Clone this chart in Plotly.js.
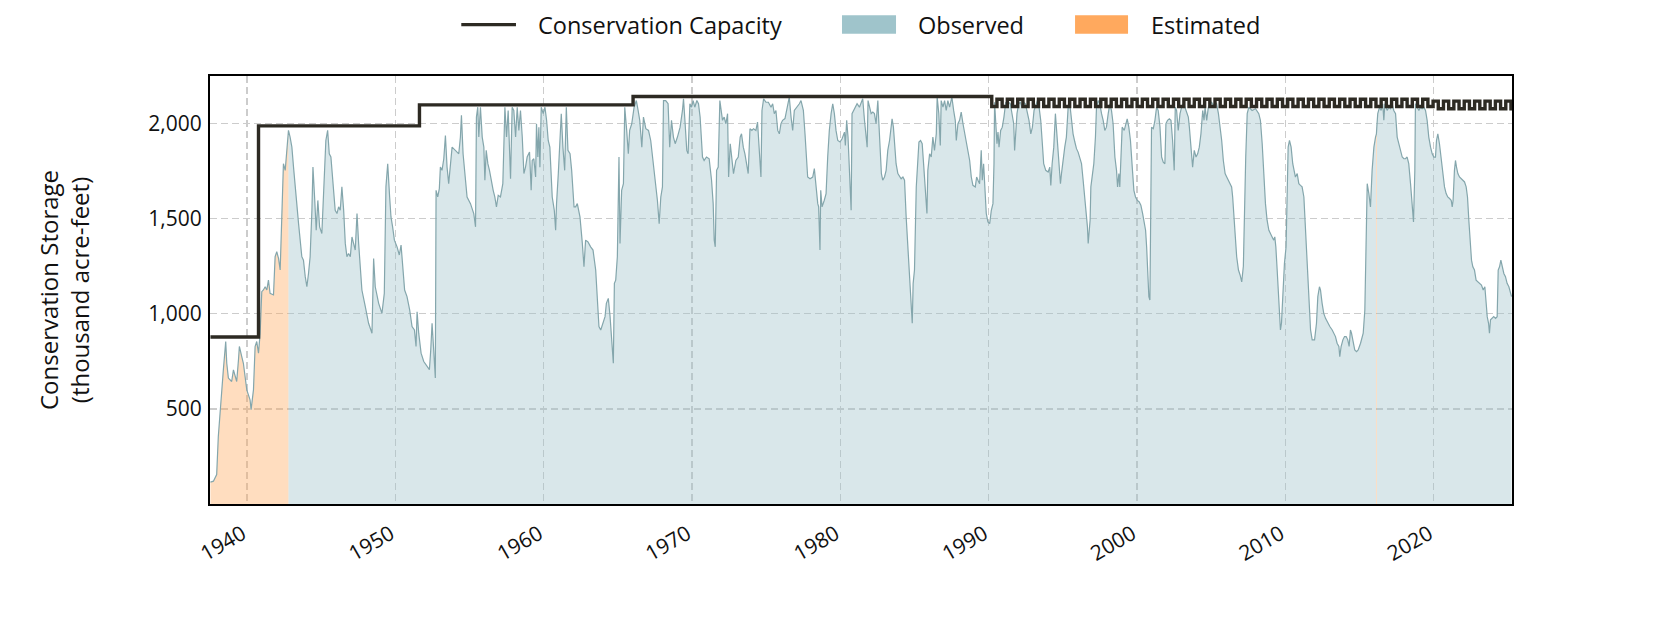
<!DOCTYPE html>
<html>
<head>
<meta charset="utf-8">
<script src="https://cdn.plot.ly/plotly-3.0.1.min.js"></script>
<style>
  html, body { margin: 0; padding: 0; background: #ffffff; }
  #chart { width: 1680px; height: 630px; }
</style>
</head>
<body>
<div id="chart"></div>
<script>
// ---- Data (decimal year, thousand acre-feet) ----
const storage1930s = [[1937.53,115],[1937.73,120],[1937.95,155],[1938.06,355],[1938.18,478],[1938.29,618],[1938.40,705],[1938.56,854],[1938.63,740],[1938.74,662],[1938.96,644],[1939.08,705],[1939.30,644],[1939.42,758],[1939.48,828],[1939.64,775],[1939.75,740],[1939.98,600]];
const storage1940s = [[1940.20,548],[1940.27,496],[1940.43,600],[1940.54,828],[1940.65,854],[1940.77,793],[1940.88,898],[1940.99,1116],[1941.10,1125],[1941.22,1142],[1941.33,1125],[1941.44,1177],[1941.55,1107],[1941.78,1099],[1941.89,1300],[1942.00,1326],[1942.12,1291],[1942.23,1230],[1942.34,1527],[1942.45,1789],[1942.57,1754],[1942.68,1841],[1942.79,1964],[1942.90,1929],[1943.02,1876],[1943.13,1771],[1943.24,1667],[1943.35,1579],[1943.47,1474],[1943.69,1300],[1943.80,1282],[1943.92,1195],[1944.03,1142],[1944.14,1212],[1944.25,1300],[1944.37,1544],[1944.44,1771],[1944.55,1614],[1944.66,1439],[1944.77,1596],[1944.89,1457],[1945.04,1422],[1945.16,1649],[1945.31,1911],[1945.43,1964],[1945.54,1841],[1945.65,1824],[1945.76,1702],[1945.94,1544],[1946.06,1527],[1946.17,1562],[1946.28,1544],[1946.39,1667],[1946.51,1544],[1946.62,1370],[1946.73,1300],[1946.84,1317],[1946.96,1300],[1947.07,1404],[1947.29,1335],[1947.41,1527],[1947.52,1370],[1947.63,1265],[1947.74,1125],[1947.97,1037],[1948.19,950],[1948.42,898],[1948.53,1291],[1948.64,1142],[1948.87,1055],[1949.09,1002],[1949.25,1107],[1949.36,1667],[1949.48,1789],[1949.61,1614],[1949.70,1509],[1949.81,1457],[1949.93,1387]];
const storage1950s = [[1950.11,1352],[1950.26,1309],[1950.38,1361],[1950.49,1247],[1950.62,1125],[1950.78,1090],[1950.96,1020],[1951.12,933],[1951.28,915],[1951.39,828],[1951.46,1011],[1951.57,898],[1951.73,793],[1951.91,749],[1952.13,723],[1952.29,706],[1952.38,810],[1952.47,950],[1952.58,810],[1952.69,662],[1952.74,1649],[1952.85,1614],[1952.96,1658],[1953.03,1771],[1953.14,1754],[1953.26,1815],[1953.37,1937],[1953.48,1771],[1953.59,1684],[1953.71,1771],[1953.82,1876],[1954.04,1859],[1954.27,1841],[1954.38,1929],[1954.45,2043],[1954.56,1841],[1954.72,1684],[1954.83,1614],[1955.06,1579],[1955.28,1527],[1955.40,1457],[1955.46,2034],[1955.55,2086],[1955.62,1929],[1955.73,2086],[1955.85,1929],[1955.96,1876],[1956.03,1702],[1956.12,1859],[1956.23,1789],[1956.34,1754],[1956.45,1702],[1956.59,1649],[1956.70,1614],[1956.81,1562],[1956.93,1623],[1957.08,1614],[1957.24,1684],[1957.38,2086],[1957.49,1929],[1957.60,2069],[1957.76,1710],[1957.87,2086],[1957.98,2069],[1958.10,1929],[1958.21,2086],[1958.32,1964],[1958.43,2069],[1958.55,1929],[1958.66,1737],[1958.77,1771],[1958.88,1824],[1959.04,1850],[1959.15,1649],[1959.22,1806],[1959.33,1815],[1959.45,1719],[1959.51,1999],[1959.60,1824],[1959.67,1981],[1959.74,1771],[1959.83,2086],[1959.96,2052]];
const storage1960s = [[1960.08,2086],[1960.19,2017],[1960.30,1911],[1960.41,1876],[1960.57,1614],[1960.71,1544],[1960.80,1439],[1960.86,1579],[1960.98,1737],[1961.09,1929],[1961.18,2052],[1961.29,1876],[1961.41,1754],[1961.52,2086],[1961.63,1859],[1961.77,1841],[1961.88,1754],[1962.04,1562],[1962.15,1562],[1962.26,1579],[1962.44,1509],[1962.60,1370],[1962.71,1247],[1962.82,1387],[1962.98,1378],[1963.16,1352],[1963.32,1335],[1963.50,1230],[1963.61,1072],[1963.72,933],[1963.84,915],[1963.99,950],[1964.13,985],[1964.22,1055],[1964.35,1081],[1964.47,985],[1964.58,880],[1964.69,740],[1964.76,1160],[1964.85,1177],[1964.96,1300],[1965.07,1824],[1965.14,1370],[1965.25,1649],[1965.37,1684],[1965.46,2086],[1965.59,1964],[1965.70,1841],[1965.79,1964],[1965.93,1999],[1966.09,2086],[1966.24,2121],[1966.36,2069],[1966.47,2017],[1966.61,1876],[1966.72,2034],[1966.88,1973],[1967.06,1964],[1967.21,1911],[1967.37,1806],[1967.51,1702],[1967.66,1597],[1967.78,1474],[1967.89,1614],[1968.00,1667],[1968.07,2121],[1968.22,2121],[1968.38,2104],[1968.49,1876],[1968.61,2017],[1968.74,1929],[1968.86,1894],[1969.01,1929],[1969.19,1981],[1969.35,2069],[1969.42,2130],[1969.53,1999],[1969.64,1859],[1969.73,1841],[1969.85,2104],[1969.96,2086]];
const storage1970s = [[1970.07,2121],[1970.18,2086],[1970.32,2121],[1970.43,2104],[1970.54,2034],[1970.70,1824],[1970.81,1806],[1970.97,1824],[1971.15,1815],[1971.31,1702],[1971.42,1579],[1971.49,1387],[1971.56,1352],[1971.65,1754],[1971.76,1771],[1971.87,2121],[1971.94,2086],[1972.05,2017],[1972.16,2034],[1972.28,1999],[1972.39,2052],[1972.46,1719],[1972.57,1894],[1972.68,1824],[1972.79,1737],[1972.95,1806],[1973.11,1824],[1973.24,1929],[1973.33,1946],[1973.45,1876],[1973.56,1841],[1973.67,1789],[1973.78,1737],[1973.90,1973],[1974.03,1964],[1974.14,1973],[1974.30,1964],[1974.41,2008],[1974.53,1841],[1974.64,1719],[1974.71,2069],[1974.82,2130],[1974.98,2112],[1975.14,2112],[1975.32,2086],[1975.43,2104],[1975.54,2052],[1975.65,2069],[1975.77,1964],[1975.88,1946],[1975.99,1999],[1976.10,2017],[1976.26,2026],[1976.37,2069],[1976.49,2112],[1976.55,2139],[1976.67,2034],[1976.78,1964],[1976.89,2069],[1977.07,2086],[1977.23,2104],[1977.34,2121],[1977.50,2069],[1977.61,1946],[1977.72,1806],[1977.79,1719],[1977.95,1710],[1978.13,1719],[1978.24,1763],[1978.35,1667],[1978.47,1579],[1978.53,1562],[1978.62,1335],[1978.67,1649],[1978.76,1562],[1978.91,1597],[1979.03,1632],[1979.14,1824],[1979.25,1964],[1979.37,2052],[1979.48,2104],[1979.59,2052],[1979.70,1964],[1979.82,1911],[1979.97,1903]];
const storage1980s = [[1980.11,1920],[1980.27,1955],[1980.33,1885],[1980.42,2017],[1980.51,1929],[1980.60,1789],[1980.72,1544],[1980.78,2052],[1980.90,2069],[1981.01,2086],[1981.12,2104],[1981.28,2086],[1981.39,2112],[1981.50,2130],[1981.62,2017],[1981.73,1946],[1981.80,1876],[1981.86,2121],[1981.95,2086],[1982.07,2052],[1982.18,2060],[1982.29,2052],[1982.40,1999],[1982.52,2121],[1982.58,2017],[1982.67,1876],[1982.76,1737],[1982.85,1702],[1982.97,1719],[1983.08,1754],[1983.19,1859],[1983.31,1911],[1983.42,1981],[1983.48,2025],[1983.57,1981],[1983.64,1894],[1983.75,1789],[1983.87,1737],[1983.98,1719],[1984.09,1710],[1984.21,1719],[1984.32,1702],[1984.43,1509],[1984.54,1370],[1984.66,1230],[1984.77,1090],[1984.84,950],[1984.90,1160],[1984.99,1230],[1985.11,1667],[1985.22,1806],[1985.29,1903],[1985.40,1911],[1985.51,1894],[1985.62,1771],[1985.74,1649],[1985.83,1527],[1985.89,1754],[1986.01,1841],[1986.12,1824],[1986.23,1929],[1986.34,1859],[1986.46,1946],[1986.52,2139],[1986.63,2052],[1986.73,1885],[1986.79,2121],[1986.91,2086],[1987.02,2121],[1987.13,2069],[1987.24,2121],[1987.36,2086],[1987.51,2139],[1987.63,2069],[1987.74,2017],[1987.81,1911],[1987.92,1999],[1988.03,2017],[1988.14,2060],[1988.26,1999],[1988.37,1946],[1988.48,1911],[1988.59,1841],[1988.71,1806],[1988.82,1719],[1988.93,1675],[1989.09,1667],[1989.18,1719],[1989.27,1702],[1989.38,1684],[1989.49,1859],[1989.56,1702],[1989.65,1789],[1989.72,1649],[1989.83,1527],[1989.94,1483]];
const storage1990s = [[1990.06,1474],[1990.17,1544],[1990.28,1579],[1990.35,1789],[1990.39,2112],[1990.46,2017],[1990.55,1894],[1990.62,1955],[1990.69,1876],[1990.80,1964],[1990.91,1981],[1991.02,2034],[1991.14,2112],[1991.25,2104],[1991.34,2112],[1991.45,2104],[1991.56,2052],[1991.68,1999],[1991.74,1859],[1991.81,1929],[1991.90,2052],[1992.01,2104],[1992.13,2112],[1992.24,2086],[1992.35,2112],[1992.47,2104],[1992.60,2052],[1992.71,2017],[1992.83,1946],[1992.94,1981],[1993.05,2069],[1993.16,2095],[1993.28,2121],[1993.39,2086],[1993.50,2017],[1993.61,1894],[1993.70,1789],[1993.84,1754],[1994.00,1745],[1994.11,1771],[1994.18,1675],[1994.27,1789],[1994.38,1876],[1994.49,2052],[1994.60,1929],[1994.72,1789],[1994.83,1684],[1994.90,1737],[1995.01,1824],[1995.12,1876],[1995.23,1929],[1995.35,2086],[1995.46,2104],[1995.57,2034],[1995.68,1946],[1995.80,1903],[1995.91,1868],[1996.02,1850],[1996.13,1824],[1996.25,1789],[1996.36,1702],[1996.47,1614],[1996.58,1509],[1996.65,1457],[1996.70,1370],[1996.77,1422],[1996.83,1492],[1996.88,1667],[1996.97,1719],[1997.08,1789],[1997.19,1929],[1997.26,2086],[1997.37,2121],[1997.48,2104],[1997.60,2052],[1997.71,2017],[1997.82,1964],[1997.93,1981],[1998.05,2052],[1998.16,2104],[1998.27,2069],[1998.38,1999],[1998.50,1824],[1998.61,1754],[1998.68,1667],[1998.77,1737],[1998.83,1667],[1998.90,1806],[1998.99,1981],[1999.13,1964],[1999.24,1999],[1999.33,2025],[1999.44,1981],[1999.55,1911],[1999.67,1771],[1999.78,1649],[1999.89,1614]];
const storage2000s = [[2000.00,1597],[2000.14,1588],[2000.25,1571],[2000.37,1527],[2000.48,1474],[2000.57,1439],[2000.64,1352],[2000.70,1230],[2000.79,1090],[2000.86,1072],[2000.93,1754],[2000.97,1981],[2001.09,1973],[2001.20,2017],[2001.31,2086],[2001.42,2069],[2001.54,1981],[2001.65,1824],[2001.76,1797],[2001.87,1789],[2001.94,1999],[2002.05,2017],[2002.17,2025],[2002.28,2017],[2002.39,1911],[2002.50,1754],[2002.57,2086],[2002.66,2069],[2002.77,1964],[2002.89,2052],[2003.00,2086],[2003.11,2104],[2003.22,2086],[2003.34,2052],[2003.45,2034],[2003.52,1981],[2003.63,1876],[2003.74,1771],[2003.85,1859],[2003.97,1824],[2004.08,1841],[2004.19,1876],[2004.30,1946],[2004.42,2069],[2004.51,2017],[2004.58,2086],[2004.69,2017],[2004.80,2086],[2004.91,2104],[2005.02,2112],[2005.14,2095],[2005.25,2112],[2005.36,2104],[2005.48,2052],[2005.59,1981],[2005.70,1911],[2005.81,1806],[2005.93,1737],[2006.04,1719],[2006.15,1702],[2006.26,1684],[2006.37,1667],[2006.44,1614],[2006.53,1527],[2006.62,1404],[2006.71,1300],[2006.83,1230],[2006.94,1204],[2007.05,1168],[2007.16,1250],[2007.24,1560],[2007.32,1824],[2007.42,2052],[2007.53,2086],[2007.75,2069],[2007.98,2078],[2008.20,2052],[2008.31,2017],[2008.43,1894],[2008.54,1719],[2008.65,1579],[2008.76,1492],[2008.88,1439],[2009.10,1404],[2009.21,1387],[2009.28,1404],[2009.35,1352],[2009.44,1230],[2009.55,1090],[2009.62,950],[2009.66,915],[2009.73,950],[2009.82,1090],[2009.93,1265]];
const storage2010s = [[2010.04,1352],[2010.11,1667],[2010.18,1876],[2010.27,1911],[2010.38,1876],[2010.49,1789],[2010.58,1754],[2010.67,1719],[2010.79,1737],[2010.90,1684],[2011.01,1675],[2011.12,1667],[2011.24,1614],[2011.35,1457],[2011.46,1282],[2011.57,1107],[2011.69,915],[2011.80,863],[2011.96,863],[2012.09,950],[2012.18,1090],[2012.29,1142],[2012.36,1125],[2012.47,1055],[2012.58,1002],[2012.70,976],[2012.85,950],[2012.99,933],[2013.15,915],[2013.26,898],[2013.37,880],[2013.48,845],[2013.60,828],[2013.66,775],[2013.75,828],[2013.87,863],[2013.98,880],[2014.09,880],[2014.20,863],[2014.29,828],[2014.38,915],[2014.45,898],[2014.56,845],[2014.67,810],[2014.79,801],[2014.90,810],[2015.06,845],[2015.24,898],[2015.35,1020],[2015.42,1404],[2015.51,1684],[2015.62,1632],[2015.73,1562],[2015.84,1754],[2015.96,1876],[2016.07,1929],[2016.10,1936],[2016.13,1946],[2016.16,1985],[2016.22,2052],[2016.34,2086],[2016.45,2069],[2016.56,2104],[2016.63,2017],[2016.70,2104],[2016.85,2069],[2016.97,2086],[2017.08,2078],[2017.19,2104],[2017.30,2069],[2017.42,2052],[2017.53,1929],[2017.64,1894],[2017.75,1859],[2017.87,1824],[2017.98,1815],[2018.09,1815],[2018.20,1824],[2018.31,1789],[2018.43,1684],[2018.54,1579],[2018.63,1483],[2018.72,1754],[2018.76,2104],[2018.88,2086],[2018.99,2069],[2019.10,2086],[2019.21,2078],[2019.33,2086],[2019.44,2069],[2019.55,2017],[2019.66,1929],[2019.78,1876],[2019.89,1841]];
const storage2020s = [[2020.00,1824],[2020.11,1824],[2020.18,1911],[2020.27,1946],[2020.38,1894],[2020.49,1824],[2020.61,1719],[2020.72,1667],[2020.83,1632],[2020.94,1614],[2021.06,1606],[2021.17,1597],[2021.24,1562],[2021.30,1597],[2021.39,1754],[2021.46,1806],[2021.53,1771],[2021.62,1737],[2021.73,1719],[2021.84,1710],[2021.96,1702],[2022.07,1693],[2022.18,1667],[2022.27,1614],[2022.36,1492],[2022.45,1404],[2022.54,1282],[2022.63,1247],[2022.74,1230],[2022.85,1177],[2022.97,1168],[2023.10,1160],[2023.21,1151],[2023.33,1125],[2023.44,1142],[2023.53,1055],[2023.60,985],[2023.69,950],[2023.75,898],[2023.82,968],[2023.93,976],[2024.04,985],[2024.16,976],[2024.27,985],[2024.34,1230],[2024.43,1247],[2024.52,1282],[2024.61,1247],[2024.72,1212],[2024.83,1195],[2024.94,1160],[2025.06,1142],[2025.17,1107],[2025.24,1090]];

// Periods whose storage is estimated rather than observed
const estimatedPeriods = [[1937.50, 1942.79], [2016.10, 2016.16]];

// Conservation capacity (step changes: year the value starts, thousand acre-feet)
const capacity = [[1937.53,878],[1940.77,1988],[1951.62,2098],[1966.02,2142],
[1990.20,2090],[1990.55,2128],[1990.90,2090],[1991.25,2128],[1991.60,2090],[1991.95,2128],[1992.30,2090],[1992.65,2128],[1993.00,2090],[1993.35,2128],
[1993.70,2090],[1994.05,2128],[1994.40,2090],[1994.75,2128],[1995.10,2090],[1995.45,2128],[1995.80,2090],[1996.15,2128],[1996.50,2090],[1996.85,2128],
[1997.20,2090],[1997.55,2128],[1997.90,2090],[1998.25,2128],[1998.60,2090],[1998.95,2128],[1999.30,2090],[1999.65,2128],[2000.00,2090],[2000.35,2128],
[2000.70,2090],[2001.05,2128],[2001.40,2090],[2001.75,2128],[2002.10,2090],[2002.45,2128],[2002.80,2090],[2003.15,2128],[2003.50,2090],[2003.85,2128],
[2004.20,2090],[2004.55,2128],[2004.90,2090],[2005.25,2128],[2005.60,2090],[2005.95,2128],[2006.30,2090],[2006.65,2128],[2007.00,2090],[2007.35,2128],
[2007.70,2090],[2008.05,2128],[2008.40,2090],[2008.75,2128],[2009.10,2090],[2009.45,2128],[2009.80,2090],[2010.15,2128],[2010.50,2090],[2010.85,2128],
[2011.20,2090],[2011.55,2128],[2011.90,2090],[2012.25,2128],[2012.60,2090],[2012.95,2128],[2013.30,2090],[2013.65,2128],[2014.00,2090],[2014.35,2128],
[2014.70,2090],[2015.05,2128],[2015.40,2090],[2015.75,2128],[2016.10,2090],[2016.45,2128],[2016.80,2090],[2017.15,2128],[2017.50,2090],[2017.85,2128],
[2018.20,2090],[2018.55,2128],[2018.90,2090],[2019.25,2128],[2019.60,2090],[2019.95,2118],[2020.30,2078],[2020.65,2118],[2021.00,2078],[2021.35,2118],
[2021.70,2078],[2022.05,2118],[2022.40,2078],[2022.75,2118],[2023.10,2078],[2023.45,2118],[2023.80,2078],[2024.15,2118],[2024.50,2078],[2024.85,2118],
[2025.20,2078],[2025.27,2078]];

const xTickYears = [1940, 1950, 1960, 1970, 1980, 1990, 2000, 2010, 2020];
const yTickValues = [500, 1000, 1500, 2000];
const yTickLabels = ['500', '1,000', '1,500', '2,000'];
const legendLabels = ['Conservation Capacity', 'Observed', 'Estimated'];

// ---- Build traces ----
const storage = [].concat(storage1930s, storage1940s, storage1950s, storage1960s, storage1970s,
                          storage1980s, storage1990s, storage2000s, storage2010s, storage2020s);
const years = storage.map(p => p[0]);
const kaf = storage.map(p => p[1]);
const isEstimatedInclusive = y => estimatedPeriods.some(s => y >= s[0] && y <= s[1]);
const isEstimatedStrict = y => estimatedPeriods.some(s => y > s[0] && y < s[1]);

// split indices into contiguous runs that satisfy a predicate
function runs(pred) {
  const out = []; let cur = null;
  years.forEach((y, i) => {
    if (pred(y)) { if (!cur) { cur = []; out.push(cur); } cur.push(i); }
    else cur = null;
  });
  return out.filter(r => r.length > 1);
}

const FONT = '"Open Sans", "Noto Sans", sans-serif';
const TEXT = '#111111';

function fillTrace(idx, name, color) {
  return { type: 'scatter', mode: 'lines', name: name,
    x: idx.map(i => years[i]), y: idx.map(i => kaf[i]),
    fill: 'tozeroy', fillcolor: color, line: { width: 0, color: 'rgba(0,0,0,0)' },
    showlegend: false, hoverinfo: 'skip' };
}

const traces = [];
runs(isEstimatedInclusive).forEach(r => traces.push(fillTrace(r, legendLabels[2], 'rgba(255,169,94,0.40)')));
runs(y => !isEstimatedStrict(y)).forEach(r => traces.push(fillTrace(r, legendLabels[1], 'rgba(159,196,203,0.40)')));
traces.push({ type: 'scatter', mode: 'lines', name: 'Storage', x: years, y: kaf,
  line: { width: 1.2, color: '#84a6ac' }, showlegend: false });
traces.push({ type: 'scatter', mode: 'lines', name: legendLabels[0],
  x: capacity.map(p => p[0]), y: capacity.map(p => p[1]),
  line: { width: 3.4, color: '#2d2a23', shape: 'hv' }, showlegend: false });

// Legend drawn in paper coordinates above the plot
const legendY = 1.12;
const shapes = [
  { type: 'line', xref: 'paper', yref: 'paper', x0: 0.193, x1: 0.235, y0: legendY, y1: legendY,
    line: { color: '#2d2a23', width: 3.4 } },
  { type: 'rect', xref: 'paper', yref: 'paper', x0: 0.4854, x1: 0.5269, y0: 1.099, y1: 1.142,
    fillcolor: '#9fc4cb', line: { width: 0 } },
  { type: 'rect', xref: 'paper', yref: 'paper', x0: 0.6644, x1: 0.7051, y0: 1.099, y1: 1.142,
    fillcolor: '#ffa95e', line: { width: 0 } }
];
const legendFont = { family: FONT, size: 23.5, color: TEXT };
const annotations = [
  { xref: 'paper', yref: 'paper', x: 0.250, y: legendY, xanchor: 'left', yanchor: 'middle',
    text: legendLabels[0], showarrow: false, font: legendFont },
  { xref: 'paper', yref: 'paper', x: 0.542, y: legendY, xanchor: 'left', yanchor: 'middle',
    text: legendLabels[1], showarrow: false, font: legendFont },
  { xref: 'paper', yref: 'paper', x: 0.721, y: legendY, xanchor: 'left', yanchor: 'middle',
    text: legendLabels[2], showarrow: false, font: legendFont }
];

const layout = {
  width: 1680, height: 630,
  margin: { l: 210, r: 168, t: 76, b: 126, pad: 0 },
  paper_bgcolor: '#ffffff', plot_bgcolor: '#ffffff',
  font: { family: FONT, size: 20, color: TEXT },
  showlegend: false,
  xaxis: {
    type: 'linear', range: [1937.50, 2025.27],
    tickmode: 'array', tickvals: xTickYears, ticktext: xTickYears.map(y => String(y) + '\u00a0'),
    tickangle: -30, ticks: '', ticklabelstandoff: 5,
    tickfont: { family: FONT, size: 21, color: TEXT },
    showgrid: true, gridcolor: '#cccccc', gridwidth: 1.3, griddash: '7px,4px',
    zeroline: false, showline: true, mirror: true, linecolor: '#000000', linewidth: 2
  },
  yaxis: {
    range: [0, 2250],
    tickmode: 'array', tickvals: yTickValues, ticktext: yTickLabels,
    ticks: '', ticklabelstandoff: 2,
    tickfont: { family: FONT, size: 21, color: TEXT },
    showgrid: true, gridcolor: '#cccccc', gridwidth: 1.3, griddash: '7px,4px',
    zeroline: false, showline: true, mirror: true, linecolor: '#000000', linewidth: 2,
    title: { text: 'Conservation Storage<br>(thousand acre-feet)', standoff: 52,
             font: { family: FONT, size: 24, color: TEXT } }
  },
  shapes: shapes,
  annotations: annotations
};

Plotly.newPlot('chart', traces, layout, { displayModeBar: false, staticPlot: true });
</script>
</body>
</html>
